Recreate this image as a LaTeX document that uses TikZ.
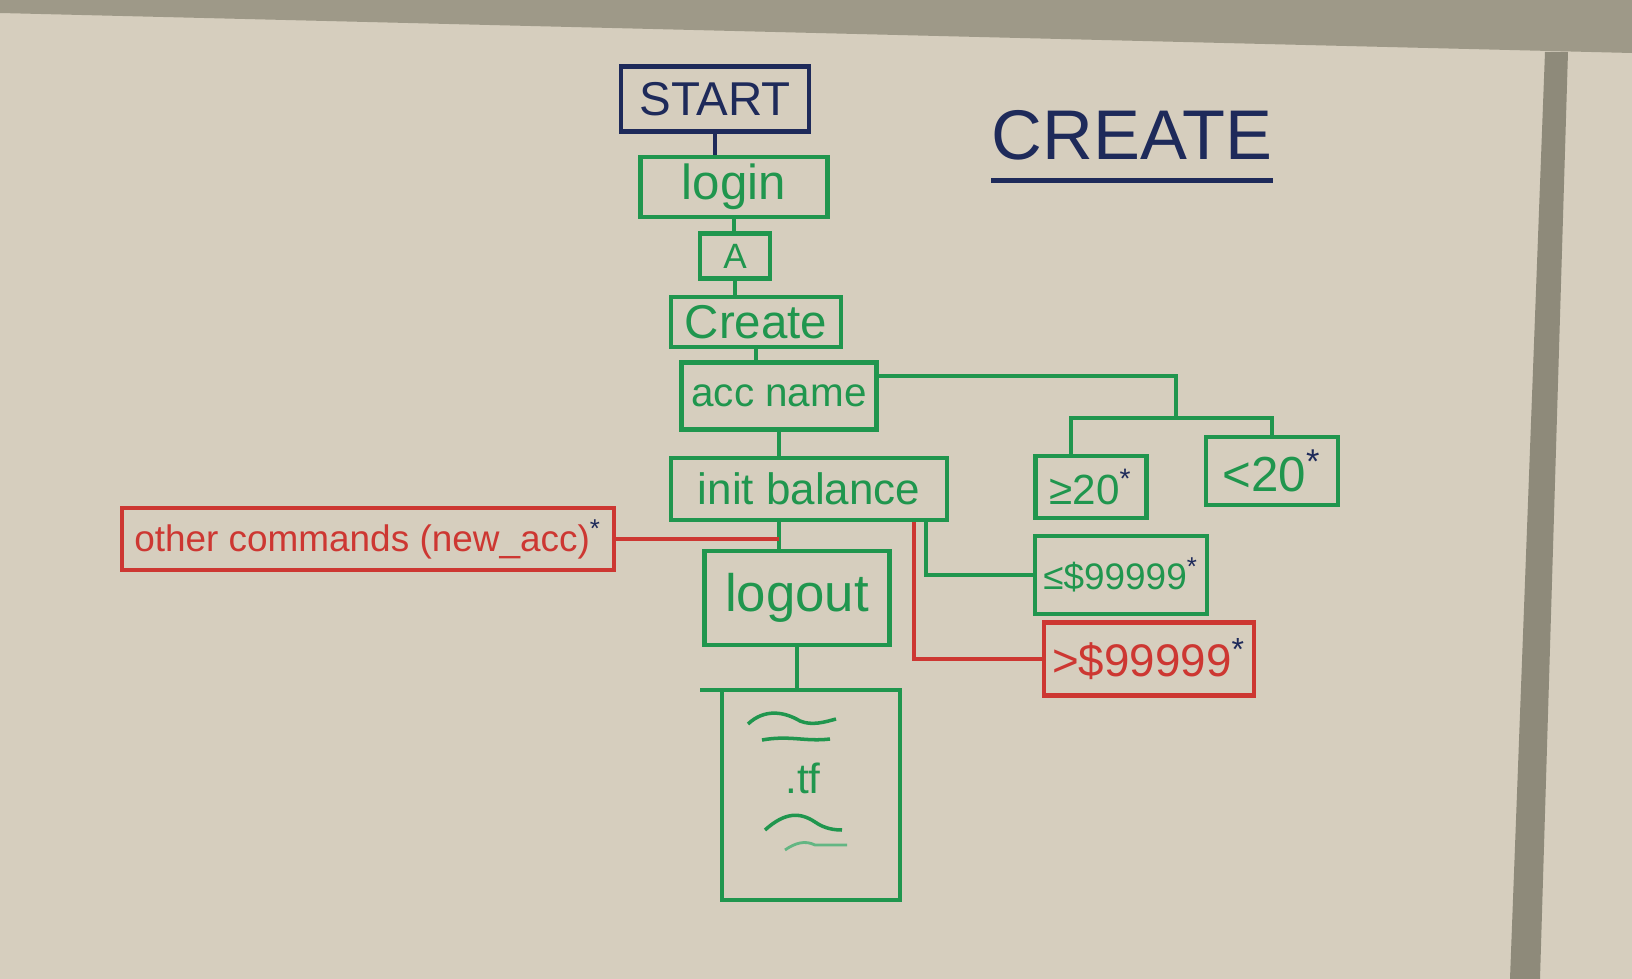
\documentclass[tikz,border=0pt]{standalone}
\usepackage{fontspec}
\setmainfont{Liberation Sans}
\usetikzlibrary{calc, positioning}
\definecolor{mkgreen}{RGB}{32,150,78}
\definecolor{mkred}{RGB}{205,55,50}
\definecolor{mknavy}{RGB}{30,42,90}
\definecolor{board}{RGB}{214,206,190}
\definecolor{frame}{RGB}{158,153,136}
\newcommand{\mkstar}{{\color{mknavy}\textsuperscript{*}}}

\begin{document}
\begin{tikzpicture}[x=0.01cm, y=-0.01cm,
    gbox/.style={draw=mkgreen, line width=1.2pt, text=mkgreen, inner sep=2pt},
    rbox/.style={draw=mkred, line width=1.2pt, text=mkred, inner sep=2pt},
    nbox/.style={draw=mknavy, line width=1.3pt, text=mknavy, inner sep=2pt},
    gline/.style={draw=mkgreen, line width=1.2pt},
    rline/.style={draw=mkred, line width=1.2pt}]
    % whiteboard
    \fill[board] (0,0) rectangle (1632,979);
    \fill[frame] (0,0) -- (1632,0) -- (1632,53) -- (0,13) -- cycle;
    \fill[frame!90!black] (1545,52) -- (1568,52) -- (1540,979) -- (1510,979) -- cycle;
    \useasboundingbox (0,0) rectangle (1632,979);

    % main column
    \node[nbox, minimum width=1.88cm, minimum height=0.65cm, font=\fontsize{13.5}{14}\selectfont] (start) at (715,99) {START};
    \node[gbox, minimum width=1.87cm, minimum height=0.58cm, font=\fontsize{14}{15}\selectfont] (login) at (734,187) {login};
    \node[gbox, minimum width=0.70cm, minimum height=0.45cm, font=\fontsize{10}{11}\selectfont] (a) at (735,256) {A};
    \node[gbox, minimum width=1.70cm, minimum height=0.50cm, font=\fontsize{13.5}{14}\selectfont] (create) at (756,322) {Create};
    \node[gbox, minimum width=1.95cm, minimum height=0.67cm, font=\fontsize{11.5}{12}\selectfont] (accname) at (779,396) {acc name};
    \node[gbox, minimum width=2.76cm, minimum height=0.62cm, font=\fontsize{12.5}{13}\selectfont] (init) at (809,489) {init balance};
    \node[gbox, minimum width=1.85cm, minimum height=0.94cm, font=\fontsize{15}{16}\selectfont] (logout) at (797,598) {logout};
    \node[gbox, outer sep=0pt, minimum width=1.78cm, minimum height=2.10cm] (doc) at (811,795) {};
    \node[text=mkgreen, font=\fontsize{12}{13}\selectfont] (tf) at (803,778) {.tf};

    % side branches
    \node[rbox, minimum width=4.92cm, minimum height=0.62cm, font=\fontsize{10.5}{11}\selectfont] (other) at (368,539) {other commands (new\_acc)\mkstar};
    \node[gbox, minimum width=1.11cm, minimum height=0.62cm, font=\fontsize{12}{13}\selectfont] (ge20) at (1091,487) {≥20\mkstar};
    \node[gbox, minimum width=1.32cm, minimum height=0.68cm, font=\fontsize{14}{15}\selectfont] (lt20) at (1272,471) {<20\mkstar};
    \node[gbox, minimum width=1.72cm, minimum height=0.78cm, font=\fontsize{10.5}{11}\selectfont] (le) at (1121,575) {≤\$99999\mkstar};
    \node[rbox, minimum width=2.10cm, minimum height=0.73cm, font=\fontsize{13}{14}\selectfont] (gt) at (1149,659) {>\$99999\mkstar};

    % title
    \node[text=mknavy, inner sep=0pt, font=\fontsize{20}{22}\selectfont] (title) at (1132,135) {CREATE};
    \draw[mknavy, line width=1.2pt] ([yshift=-0.2cm]title.south west) -- ([yshift=-0.2cm]title.south east);

    % connectors
    \coordinate (jn) at (779,539);
    \coordinate (ja) at (1176,418);
    \draw[mknavy, line width=1.2pt] (start.south) -- (start.south |- login.north);
    \draw[gline] (login.south) -- (login.south |- a.north);
    \draw[gline] (a.south) -- (a.south |- create.north);
    \draw[gline] (create.south) -- (create.south |- accname.north);
    \draw[gline] (accname.south) -- (accname.south |- init.north);
    \draw[gline] (init.south -| jn) -- (logout.north -| jn);
    \draw[gline] (logout.south) -- (logout.south |- doc.north);
    \draw[rline] (other.east) -- (jn);
    \draw[gline] ([yshift=0.2cm]accname.east) -| (ja);
    \draw[gline] ([xshift=-0.2cm]ge20.north) |- (ja) -| (lt20.north);
    \draw[gline] ([xshift=1.17cm]init.south) |- (le.west);
    \draw[rline] ([xshift=1.05cm]init.south) |- (gt.west);

    % sheet edge and scribbles
    \draw[gline] (doc.north west) -- ++(-22,0);
    \draw[mkgreen, line width=1pt] (748,724) .. controls (765,708) and (785,712) .. (800,721) .. controls (812,726) and (825,722) .. (836,719);
    \draw[mkgreen, line width=1pt] (762,740) .. controls (790,735) and (805,742) .. (830,739);
    \draw[mkgreen, line width=1pt] (765,830) .. controls (785,812) and (800,812) .. (815,822) .. controls (825,829) and (835,830) .. (842,830);
    \draw[mkgreen!70, line width=0.8pt] (785,850) .. controls (795,843) and (805,840) .. (815,845) -- (847,845);
\end{tikzpicture}
\end{document}
